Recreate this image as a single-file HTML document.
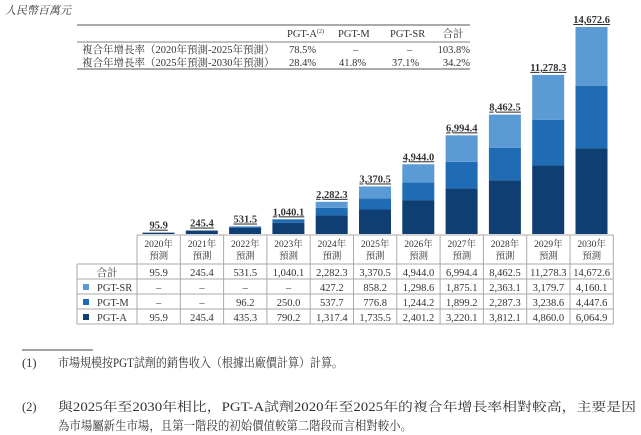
<!DOCTYPE html>
<html><head><meta charset="utf-8">
<style>
body{margin:0;background:#fff;width:641px;height:435px;overflow:hidden;font-family:"Liberation Serif","Noto Serif CJK SC",serif;}
svg{display:block}
text{fill:#333}
</style></head>
<body>
<svg id="chart" width="641" height="435" viewBox="0 0 641 435" xmlns="http://www.w3.org/2000/svg" font-family="Liberation Serif, Noto Serif CJK SC, serif">
<text x="5" y="14" font-size="11" font-style="italic">人民幣百萬元</text>
<g font-size="10.5">
<line x1="77" y1="25" x2="470" y2="25" stroke="#555" stroke-width="1"/>
<line x1="77" y1="42" x2="470" y2="42" stroke="#555" stroke-width="0.8"/>
<line x1="77" y1="69" x2="470" y2="69" stroke="#555" stroke-width="1"/>
<text x="287" y="37">PGT-A<tspan font-size="6" dy="-4">(2)</tspan></text>
<text x="338" y="37">PGT-M</text>
<text x="390" y="37">PGT-SR</text>
<text x="453" y="37" text-anchor="middle">合計</text>
<text x="82" y="53">複合年增長率（2020年預測-2025年預測）</text>
<text x="82" y="66">複合年增長率（2025年預測-2030年預測）</text>
<text x="289" y="53">78.5%</text><text x="353" y="53">–</text><text x="407" y="53">–</text><text x="470" y="53" text-anchor="end">103.8%</text>
<text x="289" y="66">28.4%</text><text x="339" y="66">41.8%</text><text x="392" y="66">37.1%</text><text x="470" y="66" text-anchor="end">34.2%</text>
</g>
<g id="bars"></g>
<g id="table" font-size="10.5"></g>
<g font-size="12.5">
<line x1="22" y1="350" x2="93" y2="350" stroke="#444" stroke-width="1"/>
<text x="22" y="367">(1)</text>
<text x="58" y="367" textLength="285" lengthAdjust="spacingAndGlyphs">市場規模按PGT試劑的銷售收入（根據出廠價計算）計算。</text>
<text x="22" y="411">(2)</text>
<text x="58" y="411" textLength="578" lengthAdjust="spacingAndGlyphs">與2025年至2030年相比，PGT-A試劑2020年至2025年的複合年增長率相對較高，主要是因</text>
<text x="58" y="430" textLength="354" lengthAdjust="spacingAndGlyphs">為市場屬新生市場，且第一階段的初始價值較第二階段而言相對較小。</text>
</g>
</svg>
<script>
const years=["2020年","2021年","2022年","2023年","2024年","2025年","2026年","2027年","2028年","2029年","2030年"];
const totals=[95.9,245.4,531.5,1040.1,2282.3,3370.5,4944.0,6994.4,8462.5,11278.3,14672.6];
const sr=[0,0,0,0,427.2,858.2,1298.6,1875.1,2363.1,3179.7,4160.1];
const pm=[0,0,96.2,250.0,537.7,776.8,1244.2,1899.2,2287.3,3238.6,4447.6];
const pa=[95.9,245.4,435.3,790.2,1317.4,1735.5,2401.2,3220.1,3812.1,4860.0,6064.9];
const fmt=v=>v===0?"–":v.toLocaleString("en-US",{minimumFractionDigits:1,maximumFractionDigits:1});
const NS="http://www.w3.org/2000/svg";
const colX0=137,colW=43.3,base=234,maxH=207,maxV=14672.6;
const x=i=>colX0+i*colW;
const y=v=>v/maxV*maxH;
function mk(tag,attrs,parent,txt){const e=document.createElementNS(NS,tag);for(const k in attrs)e.setAttribute(k,attrs[k]);if(txt!==undefined)e.textContent=txt;parent.appendChild(e);return e;}
const bars=document.getElementById('bars');
const cA="#0e3e72",cM="#1f6bb4",cS="#5b9bd5";
years.forEach((yr,i)=>{
 const bx=x(i)+5.5,bw=32;
 let h0=y(pa[i]);
 const ra=mk('rect',{x:bx,y:base-h0,width:bw,height:h0,fill:cA},bars);
 
 
 const hm=y(pm[i]);
 const rm=mk('rect',{x:bx,y:base-h0-hm,width:bw,height:hm,fill:cM},bars);
 
 
 const hs=y(sr[i]);
 const rs=mk('rect',{x:bx,y:base-h0-hm-hs,width:bw,height:hs,fill:cS},bars);
 
 
 const top=base-y(totals[i]);
 const t=mk('text',{x:x(i)+colW/2,y:top-4,'text-anchor':'middle','font-size':10.5,'font-weight':'bold','text-decoration':'underline'},bars,fmt(totals[i]));
 
 
});
const tb=document.getElementById('table');
const g='#aaa';
const rowsY=[235,264,279,294,309,324];
mk('line',{x1:colX0,y1:235,x2:x(11),y2:235,stroke:g},tb);
for(let r=1;r<rowsY.length;r++)mk('line',{x1:77,y1:rowsY[r],x2:x(11),y2:rowsY[r],stroke:g},tb);
mk('line',{x1:77,y1:264,x2:77,y2:324,stroke:g},tb);
for(let i=0;i<=11;i++)mk('line',{x1:x(i),y1:235,x2:x(i),y2:324,stroke:g},tb);
years.forEach((yr,i)=>{
 const cx=x(i)+colW/2;
 mk('text',{x:cx,y:247,'text-anchor':'middle','font-size':9.5},tb,yr);
 mk('text',{x:cx,y:259,'text-anchor':'middle','font-size':9.5},tb,"預測");
 mk('text',{x:cx,y:276,'text-anchor':'middle'},tb,fmt(totals[i]));
 mk('text',{x:cx,y:291,'text-anchor':'middle'},tb,fmt(sr[i]));
 mk('text',{x:cx,y:306,'text-anchor':'middle'},tb,fmt(pm[i]));
 mk('text',{x:cx,y:321,'text-anchor':'middle'},tb,fmt(pa[i]));
});
mk('text',{x:107,y:276,'text-anchor':'middle'},tb,"合計");
[["PGT-SR",291,cS],["PGT-M",306,cM],["PGT-A",321,cA]].forEach(([n,yy,c])=>{
 const s=mk('rect',{x:83,y:yy-7,width:6,height:6,fill:c},tb);
 
 
 mk('text',{x:97,y:yy},tb,n);
});
</script>
</body></html>
